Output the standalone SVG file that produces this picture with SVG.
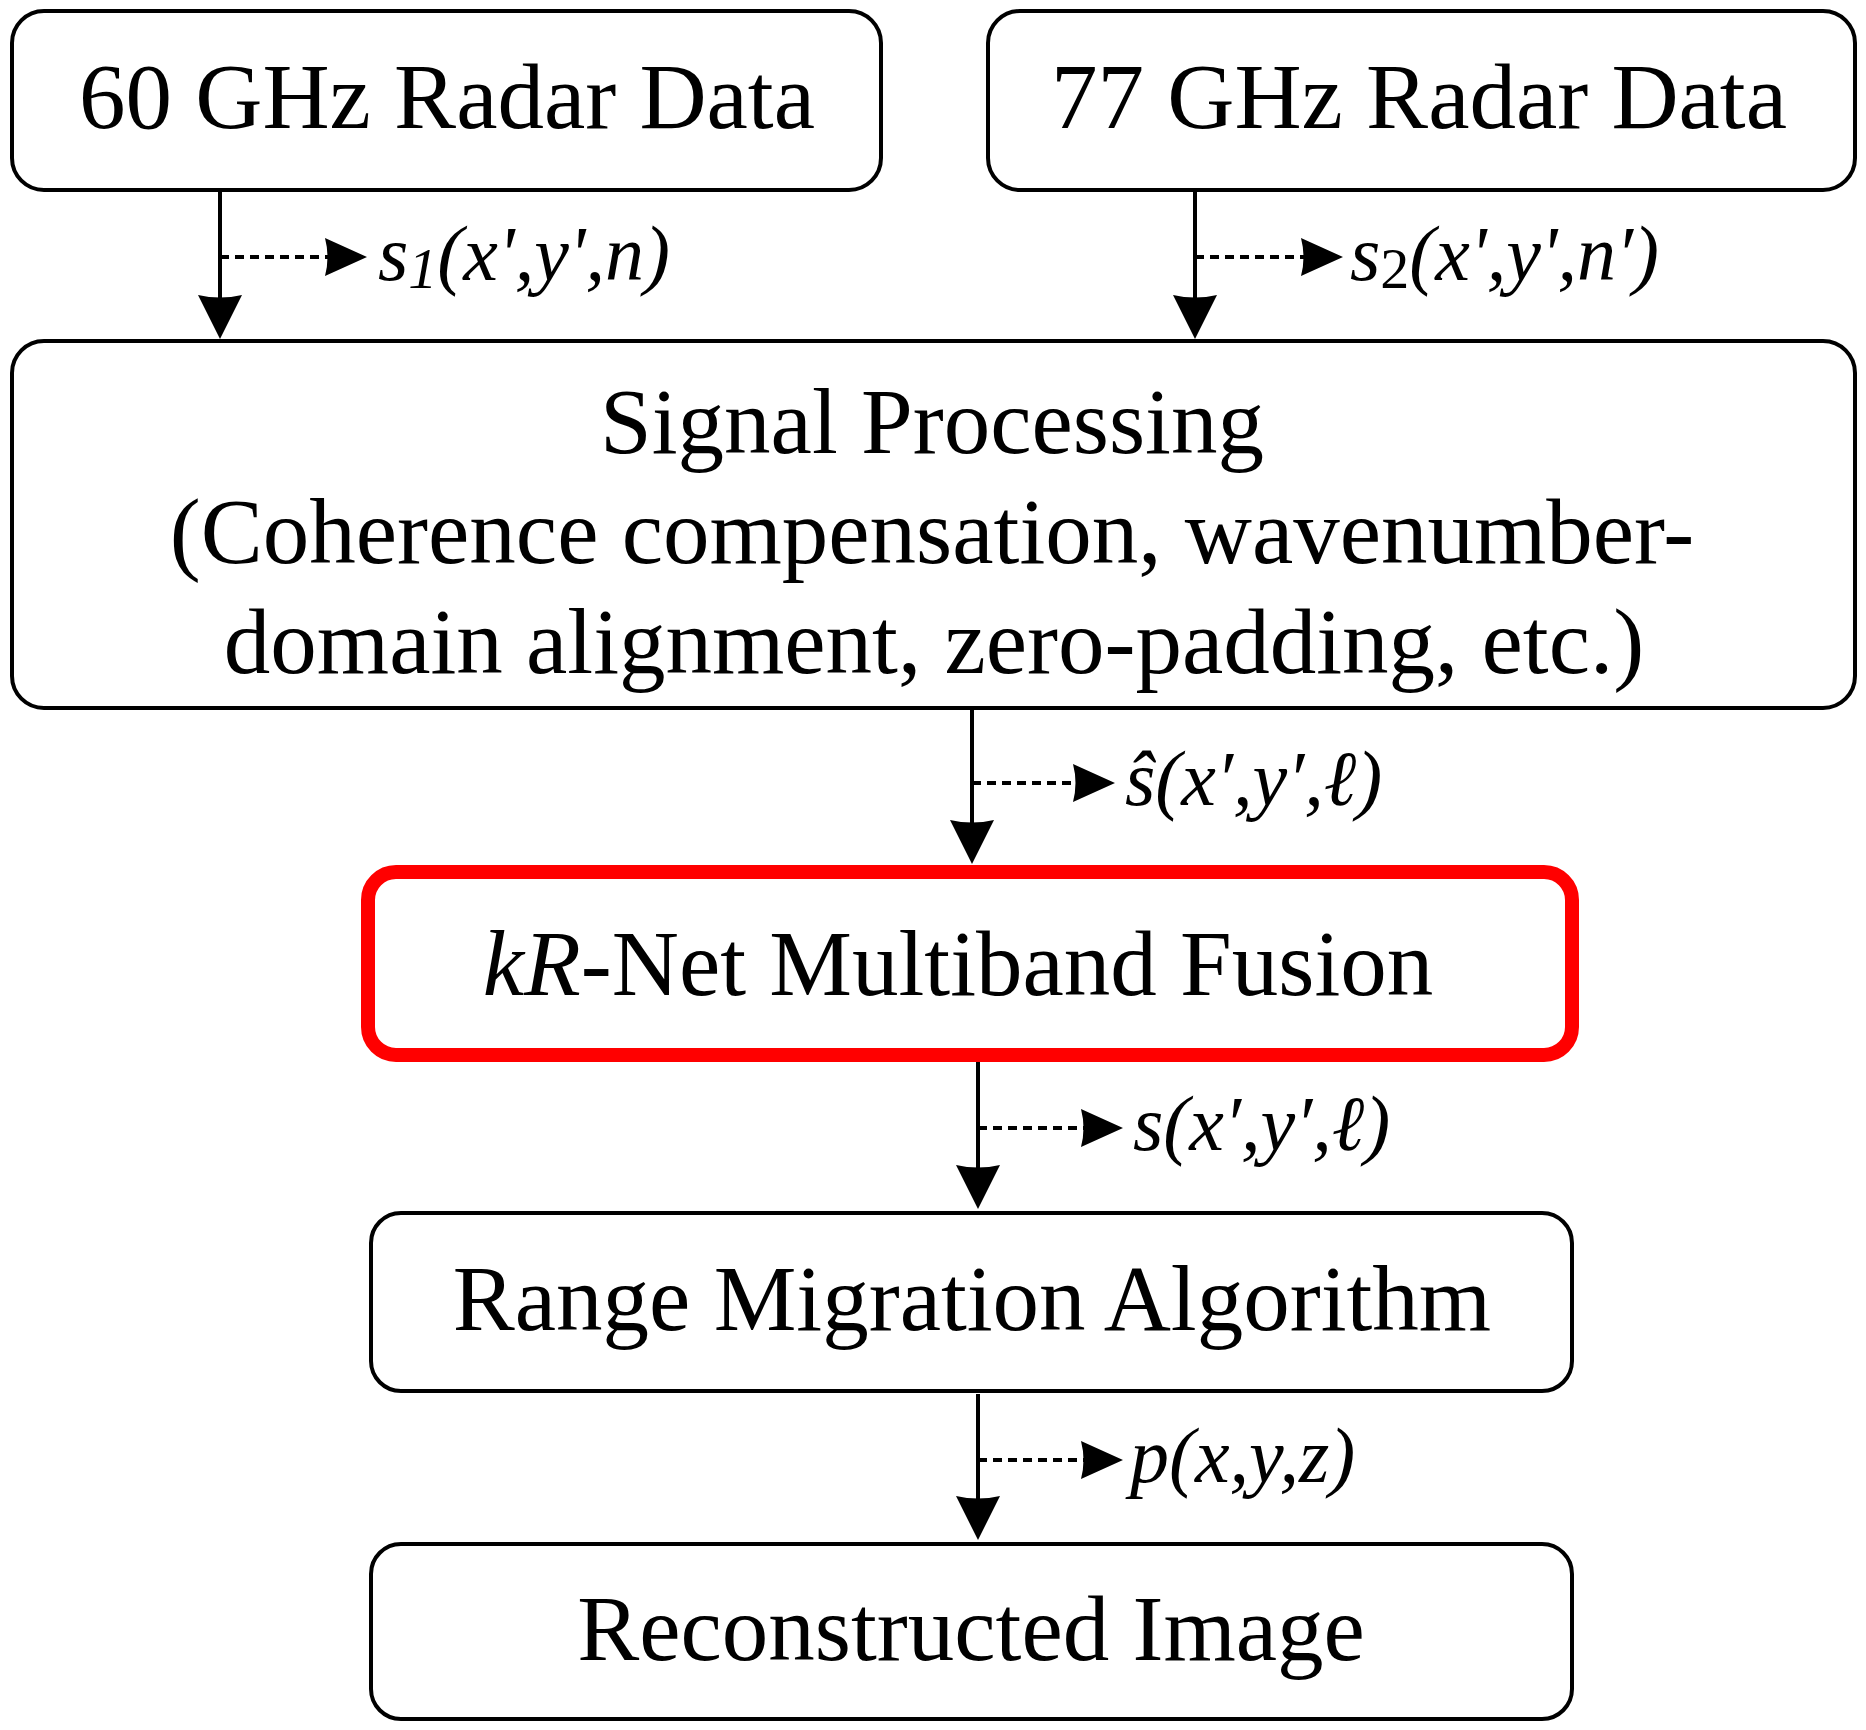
<svg xmlns="http://www.w3.org/2000/svg" width="1866" height="1730" viewBox="0 0 1866 1730">
<style>
.box{fill:#fff;stroke:#000;stroke-width:4}
.red{fill:#fff;stroke:#ff0000;stroke-width:14}
.t{font-family:"Liberation Serif","Times New Roman",serif;font-size:93px;fill:#000;text-anchor:middle}
.lbl{font-family:"Liberation Serif","Times New Roman",serif;font-size:78px;font-style:italic;fill:#000}
.sub{font-size:58px}
.solid{stroke:#000;stroke-width:4;fill:none;marker-end:url(#ahV)}
.dot{stroke:#000;stroke-width:4;fill:none;stroke-dasharray:9 6;marker-end:url(#ahH)}
</style>
<defs>
<marker id="ahV" markerUnits="userSpaceOnUse" markerWidth="46" markerHeight="46" refX="24" refY="22" orient="auto" overflow="visible">
<path d="M0,0 L44,22 L0,44 Q5,22 0,0 Z" fill="#000"/>
</marker>
<marker id="ahH" markerUnits="userSpaceOnUse" markerWidth="44" markerHeight="40" refX="22" refY="19" orient="auto" overflow="visible">
<path d="M0,0 L42,19 L0,38 Q5,19 0,0 Z" fill="#000"/>
</marker>
</defs>

<g id="connectors">
<line class="solid" x1="220" y1="192" x2="220" y2="319"/>
<line class="dot" x1="220" y1="257" x2="347" y2="257"/>
<line class="solid" x1="1195" y1="192" x2="1195" y2="319"/>
<line class="dot" x1="1195" y1="257" x2="1323" y2="257"/>
<line class="solid" x1="972" y1="710" x2="972" y2="844"/>
<line class="dot" x1="972" y1="783" x2="1095" y2="783"/>
<line class="solid" x1="978" y1="1062" x2="978" y2="1189"/>
<line class="dot" x1="978" y1="1128" x2="1103" y2="1128"/>
<line class="solid" x1="978" y1="1394" x2="978" y2="1520"/>
<line class="dot" x1="978" y1="1460" x2="1103" y2="1460"/>
<text class="lbl" x="378" y="280">s<tspan class="sub" dy="8">1</tspan><tspan dy="-8">(x',y',n)</tspan></text>
<text class="lbl" x="1350" y="280">s<tspan class="sub" dy="8" font-style="normal">2</tspan><tspan dy="-8">(x',y',n′)</tspan></text>
<text class="lbl" x="1125" y="805">ŝ(x′,y′,ℓ)</text>
<text class="lbl" x="1133" y="1150">s(x′,y′,ℓ)</text>
<text class="lbl" x="1130" y="1482">p(x,y,z)</text>
</g>

<g id="node-60ghz">
<rect class="box" x="12" y="11" width="869" height="179" rx="32"/>
<text class="t" x="447" y="128">60 GHz Radar Data</text>
</g>
<g id="node-77ghz">
<rect class="box" x="988" y="11" width="867" height="179" rx="32"/>
<text class="t" x="1419" y="128">77 GHz Radar Data</text>
</g>
<g id="node-signal">
<rect class="box" x="12" y="341" width="1843" height="367" rx="32"/>
<text class="t" x="932" y="453">Signal Processing</text>
<text class="t" x="932" y="563">(Coherence compensation, wavenumber-</text>
<text class="t" x="934" y="673">domain alignment, zero-padding, etc.)</text>
</g>
<g id="node-krnet">
<rect class="red" x="368" y="872" width="1204" height="183" rx="28"/>
<text class="t" x="958" y="995"><tspan font-style="italic">kR</tspan>-Net Multiband Fusion</text>
</g>
<g id="node-rma">
<rect class="box" x="371" y="1213" width="1201" height="178" rx="30"/>
<text class="t" x="972" y="1330">Range Migration Algorithm</text>
</g>
<g id="node-recon">
<rect class="box" x="371" y="1544" width="1201" height="175" rx="30"/>
<text class="t" x="971" y="1660">Reconstructed Image</text>
</g>
</svg>
